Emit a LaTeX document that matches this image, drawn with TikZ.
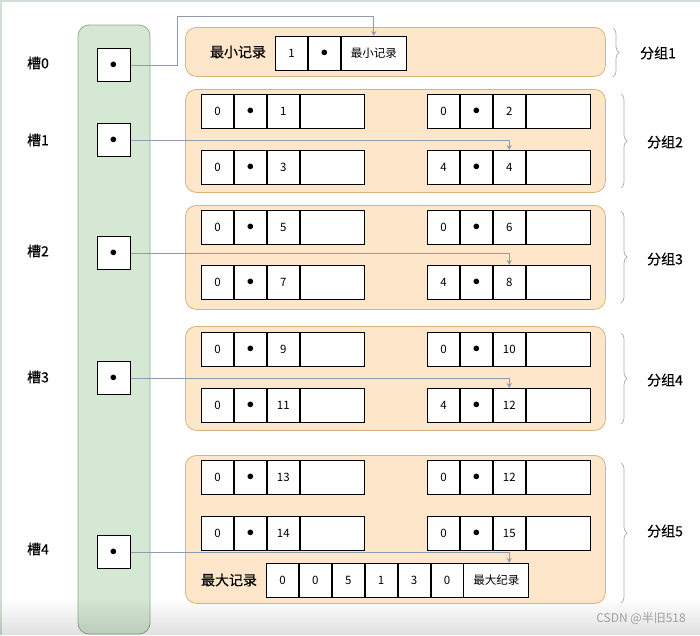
\documentclass[tikz,border=0pt]{standalone}
\usepackage{fontspec}
\setmainfont{Noto Sans CJK SC}[BoldFont=Noto Sans CJK SC, BoldFeatures={FakeBold=0.35}]
\usetikzlibrary{arrows.meta,decorations.pathreplacing,fadings}
\definecolor{slotfill}{HTML}{D5E8D4}
\definecolor{slotdraw}{HTML}{8FAE8C}
\definecolor{grpfill}{HTML}{FDE6C9}
\definecolor{grpdraw}{HTML}{D9B47E}
\definecolor{connc}{HTML}{8E9BB0}
\definecolor{bracec}{HTML}{A7AEB6}
\newcommand\bdot{{\fontsize{15}{15}\selectfont$\bullet$}}
\tikzset{
  cell/.style={draw=black, line width=0.9pt, fill=white, minimum height=34pt, inner sep=0pt, anchor=north west, font=\fontsize{11.5}{13}\selectfont},
  slotbox/.style={draw=black, line width=1pt, fill=white, minimum width=33pt, minimum height=33pt, inner sep=0pt},
  column/.style={draw=slotdraw, fill=slotfill, line width=0.8pt, rounded corners=11pt},
  grp/.style={draw=grpdraw, fill=grpfill, line width=0.8pt, rounded corners=11pt, anchor=north west, inner sep=0pt, minimum width=420pt},
  conn/.style={draw=connc, line width=0.7pt, -{Stealth[length=5pt,width=5pt]}},
  brc/.style={draw=bracec, line width=0.7pt, decorate, decoration={brace, amplitude=6pt}},
  lbl/.style={font=\fontsize{14}{16}\selectfont\bfseries, inner sep=0pt},
}
\newcommand\rrow[6]{%
  \node[cell, minimum width=32pt] (#1a) at (#2,#3) {#4};
  \node[cell, minimum width=32pt] (#1b) at (#1a.north east) {#5};
  \node[cell, minimum width=32pt] (#1c) at (#1b.north east) {#6};
  \node[cell, minimum width=64pt] (#1d) at (#1c.north east) {};
}
\begin{document}
\begin{tikzpicture}[x=1pt,y=-1pt]
\useasboundingbox (0,0) rectangle (700,635);
\fill[white] (0,0) rectangle (700,635);
\draw[green!15!gray!30, line width=1.5pt] (1,635) -- (1,1) -- (700,1);

% slot column
\path[column] (78,25) rectangle (150,634);

% groups
\node[grp, minimum height=49pt] (g1) at (185,27) {};
\node[grp, minimum height=103pt] (g2) at (185,89) {};
\node[grp, minimum height=104pt] (g3) at (185,205) {};
\node[grp, minimum height=104pt] (g4) at (185,326) {};
\node[grp, minimum height=148pt] (g5) at (185,455) {};

% group 1: minimum record
\node[lbl] (minlbl) at (238,52) {最小记录};
\node[cell, minimum width=32pt] (m1) at (275,36) {1};
\node[cell, minimum width=32pt] (m2) at (m1.north east) {\bdot};
\node[cell, minimum width=65pt] (m3) at (m2.north east) {最小记录};

% group 2
\rrow{g2ul}{201}{94}{0}{\bdot}{1}
\rrow{g2ur}{427}{94}{0}{\bdot}{2}
\rrow{g2ll}{201}{150}{0}{\bdot}{3}
\rrow{g2lr}{427}{150}{4}{\bdot}{4}
% group 3
\rrow{g3ul}{201}{210}{0}{\bdot}{5}
\rrow{g3ur}{427}{210}{0}{\bdot}{6}
\rrow{g3ll}{201}{265}{0}{\bdot}{7}
\rrow{g3lr}{427}{265}{4}{\bdot}{8}
% group 4
\rrow{g4ul}{201}{332}{0}{\bdot}{9}
\rrow{g4ur}{427}{332}{0}{\bdot}{10}
\rrow{g4ll}{201}{388}{0}{\bdot}{11}
\rrow{g4lr}{427}{388}{4}{\bdot}{12}
% group 5
\rrow{g5ul}{201}{460}{0}{\bdot}{13}
\rrow{g5ur}{427}{460}{0}{\bdot}{12}
\rrow{g5ll}{201}{516}{0}{\bdot}{14}
\rrow{g5lr}{427}{516}{0}{\bdot}{15}
\node[lbl] (maxlbl) at (229,580) {最大记录};
\node[cell, minimum width=32pt] (x1) at (266,563) {0};
\node[cell, minimum width=32pt] (x2) at (x1.north east) {0};
\node[cell, minimum width=32pt] (x3) at (x2.north east) {5};
\node[cell, minimum width=32pt] (x4) at (x3.north east) {1};
\node[cell, minimum width=32pt] (x5) at (x4.north east) {3};
\node[cell, minimum width=32pt] (x6) at (x5.north east) {0};
\node[cell, minimum width=65pt] (x7) at (x6.north east) {最大纪录};

% slots
\node[slotbox] (s0) at (113.5,65) {\bdot};
\node[slotbox] (s1) at (113.5,140) {\bdot};
\node[slotbox] (s2) at (113.5,253) {\bdot};
\node[slotbox] (s3) at (113.5,378) {\bdot};
\node[slotbox] (s4) at (113.5,552) {\bdot};
\node[lbl] (l0) at (38,63) {槽0};
\node[lbl] (l1) at (38,140) {槽1};
\node[lbl] (l2) at (38,251) {槽2};
\node[lbl] (l3) at (38,377) {槽3};
\node[lbl] (l4) at (38,549) {槽4};

% connectors
\coordinate (t0) at (177,16);
\draw[conn] (s0.east) -| (t0) -| (m3.north);
\draw[conn] (s1.east) -| (g2lrc.north);
\draw[conn] (s2.east) -| (g3lrc.north);
\draw[conn] (s3.east) -| (g4lrc.north);
\draw[conn] (s4.east) -| (g5lrc.center |- x7.north);

% braces
\draw[brc] (613,28) -- (613,77);
\draw[brc] (621,94) -- (621,188);
\draw[brc] (621,211) -- (621,303);
\draw[brc] (621,333) -- (621,424);
\draw[brc] (621,463) -- (621,603);
\node[lbl] (b1) at (658,53) {分组1};
\node[lbl] (b2) at (665,142) {分组2};
\node[lbl] (b3) at (665,259) {分组3};
\node[lbl] (b4) at (665,380) {分组4};
\node[lbl] (b5) at (665,531) {分组5};

% bottom shading and watermark
\fill[black, opacity=0.12, path fading=north] (0,598) rectangle (700,635);
\node[anchor=east, text=gray!75, font=\fontsize{12}{14}\selectfont, inner sep=0pt] (wm) at (686,618) {CSDN @半旧518};
\end{tikzpicture}
\end{document}
